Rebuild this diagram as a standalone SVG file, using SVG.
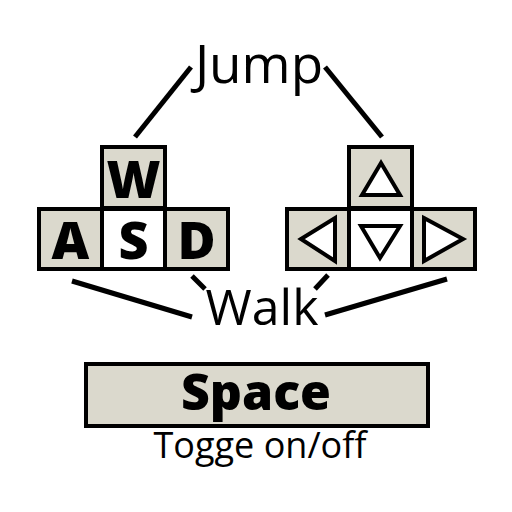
<svg xmlns="http://www.w3.org/2000/svg" width="512" height="512" viewBox="0 0 512 512">
<style>
.key{fill:#dbd9cd;stroke:#000;stroke-width:4}
.keyw{fill:#fff;stroke:#000;stroke-width:4}
.kl{font-family:"Open Sans","Noto Sans",sans-serif;font-weight:800;font-size:52px;text-anchor:middle;fill:#000}
.lbl{font-family:"Open Sans","Noto Sans",sans-serif;font-size:53px;text-anchor:middle;fill:#000}
.tri{fill:#fff;stroke:#000;stroke-width:4;stroke-linejoin:miter}
.con{stroke:#000;stroke-width:5;fill:none}
</style>
<rect width="512" height="512" fill="#fff"/>
<g id="connectors">
<line class="con" x1="191" y1="67" x2="135" y2="137"/>
<line class="con" x1="325" y1="67" x2="382" y2="137"/>
<line class="con" x1="72" y1="281" x2="192" y2="317"/>
<line class="con" x1="192" y1="276" x2="205" y2="289"/>
<line class="con" x1="328" y1="275" x2="315" y2="289"/>
<line class="con" x1="447" y1="279" x2="325" y2="315"/>
</g>
<g id="key-W"><rect class="key" x="102" y="147" width="63" height="61"/><text class="kl" x="133.5" y="198">W</text></g>
<g id="key-A"><rect class="key" x="39" y="209" width="63" height="60"/><text class="kl" x="70.5" y="259">A</text></g>
<g id="key-S"><rect class="keyw" x="102" y="209" width="63" height="60"/><text class="kl" x="133.5" y="259">S</text></g>
<g id="key-D"><rect class="key" x="165" y="209" width="63" height="60"/><text class="kl" x="196.5" y="259">D</text></g>
<g id="key-up"><rect class="key" x="349" y="147" width="63" height="61"/><polygon class="tri" points="381,163 362,195 400,195"/></g>
<g id="key-left"><rect class="key" x="287" y="209" width="62" height="60"/><polygon class="tri" points="301,239 335,218 335,261"/></g>
<g id="key-down"><rect class="keyw" x="349" y="209" width="63" height="60"/><polygon class="tri" points="361,226 400,226 380,258"/></g>
<g id="key-right"><rect class="key" x="412" y="209" width="63" height="60"/><polygon class="tri" points="424,218 463,239 424,261"/></g>
<g id="label-jump"><text class="lbl" x="259" y="83">Jump</text></g>
<g id="label-walk"><text class="lbl" x="262" y="325" style="font-size:50px">Walk</text></g>
<g id="key-space"><rect class="key" x="86" y="364" width="342" height="62"/><text class="kl" x="256" y="410" style="font-size:50px">Space</text></g>
<g id="label-toggle"><text class="lbl" x="260" y="458" style="font-size:36px">Togge on/off</text></g>
</svg>
